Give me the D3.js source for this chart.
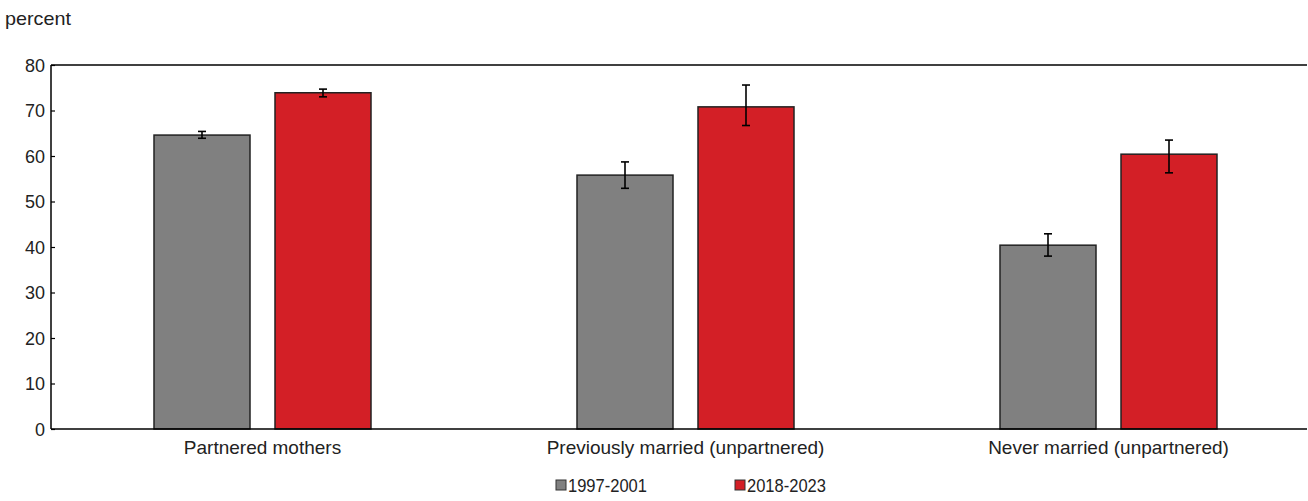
<!DOCTYPE html>
<html>
<head>
<meta charset="utf-8">
<script src="https://cdn.jsdelivr.net/npm/d3@7"></script>
<style>
  html, body { margin: 0; padding: 0; background: #fff; }
  svg text { font-family: "Liberation Sans", Arial, sans-serif; fill: #222; }
</style>
</head>
<body>
<svg id="chart" width="1308" height="501"></svg>
<script>
// Categories and series
const categories = ["Partnered mothers", "Previously married (unpartnered)", "Never married (unpartnered)"];
const seriesNames = ["1997-2001", "2018-2023"];
const seriesColors = ["#808080", "#d31f26"];

// Point estimates and 95% confidence bounds, percent
const values1997 = [64.6, 55.8, 40.4];
const low1997    = [63.9, 52.9, 38.0];
const high1997   = [65.4, 58.7, 42.9];

const values2018 = [73.9, 70.8, 60.4];
const low2018    = [73.0, 66.7, 56.3];
const high2018   = [74.7, 75.6, 63.5];

const yTicks = [0, 10, 20, 30, 40, 50, 60, 70, 80];

const series = [
  { name: seriesNames[0], color: seriesColors[0], values: values1997, low: low1997, high: high1997 },
  { name: seriesNames[1], color: seriesColors[1], values: values2018, low: low2018, high: high2018 }
];

const svg = d3.select("#chart");
const W = 1308, H = 501;
const x0 = 51, xEnd = 1320, xVisible = 1307;
const yTop = 65, yBot = 429;

const x = d3.scaleBand().domain(categories).range([x0, xEnd]).paddingInner(0).paddingOuter(0);
const y = d3.scaleLinear().domain([0, 80]).range([yBot, yTop]);

// two bars per category, separated by a small gap
const barW = 96, gap = 25;
function barX(cat, i) {
  const c = x(cat) + x.bandwidth() / 2;
  return i === 0 ? c - gap / 2 - barW : c + gap / 2;
}

// plot frame: top border
svg.append("line")
  .attr("x1", x0).attr("x2", xVisible).attr("y1", yTop).attr("y2", yTop)
  .attr("stroke", "#000").attr("stroke-width", 1.5);

// bars
series.forEach((s, i) => {
  svg.append("g").selectAll("rect")
    .data(categories.map((c, j) => ({ c, v: s.values[j] })))
    .join("rect")
    .attr("x", d => barX(d.c, i))
    .attr("y", d => y(d.v))
    .attr("width", barW)
    .attr("height", d => y(0) - y(d.v))
    .attr("fill", s.color)
    .attr("stroke", "#222")
    .attr("stroke-width", 1.5);

  // error bars
  const eg = svg.append("g").attr("stroke", "#000").attr("stroke-width", 1.6);
  categories.forEach((c, j) => {
    const cx = barX(c, i) + barW / 2;
    eg.append("line").attr("x1", cx).attr("x2", cx).attr("y1", y(s.high[j])).attr("y2", y(s.low[j]));
    eg.append("line").attr("x1", cx - 4).attr("x2", cx + 4).attr("y1", y(s.high[j])).attr("y2", y(s.high[j]));
    eg.append("line").attr("x1", cx - 4).attr("x2", cx + 4).attr("y1", y(s.low[j])).attr("y2", y(s.low[j]));
  });
});

// y axis
const yAxis = svg.append("g")
  .attr("transform", `translate(${x0},0)`)
  .call(d3.axisLeft(y).tickValues(yTicks).tickSize(-4).tickPadding(6).tickFormat(d3.format("d")));
yAxis.select(".domain").attr("stroke", "#000").attr("stroke-width", 1.5).attr("d", `M0,${yTop}V${yBot}`);
yAxis.selectAll(".tick line").attr("stroke", "#000").attr("stroke-width", 1.2);
yAxis.selectAll(".tick text").attr("font-size", 19).attr("fill", "#222")
  .attr("font-family", "'Liberation Sans', Arial, sans-serif")
  .attr("textLength", d => String(d).length * 10).attr("lengthAdjust", "spacingAndGlyphs");

// x axis
const xAxis = svg.append("g")
  .attr("transform", `translate(0,${yBot})`)
  .call(d3.axisBottom(x).tickSize(0).tickPadding(12));
xAxis.select(".domain").attr("stroke", "#000").attr("stroke-width", 1.5).attr("d", `M${x0},0H${xVisible}`);
xAxis.selectAll(".tick text").attr("font-size", 19).attr("fill", "#222")
  .attr("font-family", "'Liberation Sans', Arial, sans-serif");

// axis unit label
svg.append("text").attr("x", 5).attr("y", 25).attr("font-size", 19)
  .attr("textLength", 66).attr("lengthAdjust", "spacingAndGlyphs").text("percent");

// legend
const legendX = [556, 735];
const lg = svg.append("g");
series.forEach((s, i) => {
  lg.append("rect").attr("x", legendX[i]).attr("y", 480).attr("width", 10).attr("height", 10)
    .attr("fill", s.color).attr("stroke", "#333").attr("stroke-width", 1);
  lg.append("text").attr("x", legendX[i] + 12).attr("y", 492).attr("font-size", 19)
    .attr("textLength", 79).attr("lengthAdjust", "spacingAndGlyphs").text(s.name);
});
</script>
</body>
</html>
